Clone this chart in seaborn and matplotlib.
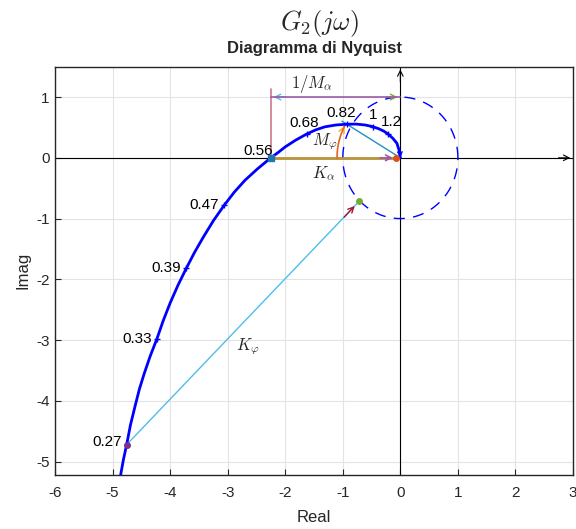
import numpy as np
import pandas as pd
import matplotlib
matplotlib.use("Agg")
import matplotlib.pyplot as plt
import seaborn as sns

# Nyquist curve (real, imag)
curve_re = [-4.86, -4.81, -4.755, -4.69, -4.61, -4.535, -4.45, -4.345, -4.23, -4.12, -4.0,
            -3.865, -3.72, -3.575, -3.42, -3.245, -3.06, -2.885, -2.70, -2.48,
            -2.25, -2.12, -2.0, -1.82, -1.63, -1.47, -1.31, -1.12, -0.93, -0.77, -0.61,
            -0.49, -0.38, -0.29, -0.21, -0.13, -0.06, -0.02, 0.0]
curve_im = [-5.22, -4.96, -4.72, -4.40, -4.09, -3.81, -3.55, -3.26, -2.98, -2.68, -2.39,
            -2.10, -1.82, -1.555, -1.30, -1.03, -0.78, -0.565, -0.37, -0.18,
            0.0, 0.09, 0.18, 0.29, 0.39, 0.46, 0.51, 0.54, 0.553, 0.555, 0.54,
            0.515, 0.48, 0.44, 0.39, 0.32, 0.24, 0.12, 0.0]

# frequency markers
freq_labels = ['0.27', '0.33', '0.39', '0.47', '0.56', '0.68', '0.82', '1', '1.2']
freq_re = [-4.755, -4.23, -3.72, -3.06, -2.25, -1.63, -0.93, -0.47, -0.21]
freq_im = [-4.72, -2.98, -1.82, -0.78, 0.0, 0.39, 0.553, 0.50, 0.39]

# margins
phase_cross = (-2.25, 0.0)
gain_cross = (-0.93, 0.553)
kphi_start = (-4.755, -4.72)
kphi_end = (-0.71, -0.71)

xticks = [-6, -5, -4, -3, -2, -1, 0, 1, 2, 3]
yticks = [-5, -4, -3, -2, -1, 0, 1]

sns.set_style("whitegrid")
plt.rcParams['font.family'] = ['Liberation Sans', 'DejaVu Sans']
plt.rcParams['mathtext.fontset'] = 'cm'
plt.rcParams['axes.unicode_minus'] = False

fig = plt.figure(figsize=(5.76, 5.29), dpi=100)
ax = fig.add_axes([0.0955, 0.102, 0.8993, 0.772])
ax.set_xlim(-6, 3)
ax.set_ylim(-5.22, 1.5)
ax.set_xticks(xticks)
ax.set_yticks(yticks)
ax.grid(True, color='#e3e3e3', lw=0.8)
for s in ax.spines.values():
    s.set_color('#262626')
    s.set_linewidth(1.0)
ax.tick_params(direction='in', length=4, colors='#262626', labelsize=11,
               left=True, bottom=True)
ax.tick_params(axis='x', pad=8)
ax.tick_params(axis='y', pad=4)
ax.set_xlabel('Real', fontsize=12, color='#262626', labelpad=7)
ax.set_ylabel('Imag', fontsize=12, color='#262626', labelpad=4)

# real / imag axes with arrows
ax.plot([-6, 3], [0, 0], color='black', lw=0.8, zorder=2)
ax.plot([0, 0], [-5.22, 1.5], color='black', lw=0.8, zorder=2)
ax.annotate('', xy=(3, 0), xytext=(2.7, 0),
            arrowprops=dict(arrowstyle='->', color='black', lw=0.8), annotation_clip=False)
ax.annotate('', xy=(0, 1.5), xytext=(0, 1.2),
            arrowprops=dict(arrowstyle='->', color='black', lw=0.8), annotation_clip=False)

# unit circle
th = np.linspace(0, 2 * np.pi, 400)
ax.plot(np.cos(th), np.sin(th), color='#0000ff', lw=1.0, ls=(0, (8, 6)), zorder=3)

# nyquist curve
df = pd.DataFrame({'re': curve_re, 'im': curve_im})
sns.lineplot(data=df, x='re', y='im', sort=False, color='#0000ff', lw=2.0, ax=ax, zorder=5)
ax.annotate('', xy=(0, 0), xytext=(-0.003, 0.04),
            arrowprops=dict(arrowstyle='->', color='#0000ff', lw=1.0, mutation_scale=8))
ax.plot(freq_re, freq_im, ls='none', marker='+', ms=5, mew=1, color='#0000ff', zorder=6)

offsets = [(-5, 3, 'right'), (-5, 0, 'right'), (-5, 0, 'right'), (-5, 0, 'right'),
           (2, 7, 'right'), (-2, 11, 'center'), (-6, 11, 'center'), (0, 12, 'center'),
           (3, 12, 'center')]
for lab, xr, yi, (dx, dy, ha) in zip(freq_labels, freq_re, freq_im, offsets):
    ax.annotate(lab, (xr, yi), xytext=(dx, dy), textcoords='offset pixels',
                ha=ha, va='center', fontsize=11, color='black', zorder=7)

# 1/M_alpha
ax.plot([phase_cross[0], phase_cross[0]], [0, 1.13], color='#c87a88', lw=1.2, zorder=4)
ax.plot([phase_cross[0], 0], [1, 1], color='#9b5aa8', lw=1.2, zorder=4)
ax.annotate('', xy=(phase_cross[0], 1), xytext=(phase_cross[0] + 0.3, 1),
            arrowprops=dict(arrowstyle='->', color='#4dbeee', lw=1.0))
ax.annotate('', xy=(0, 1), xytext=(-0.3, 1),
            arrowprops=dict(arrowstyle='->', color='#77ac30', lw=1.0))
ax.text(-1.53, 1.21, r'$1/M_\alpha$', fontsize=12, ha='center', va='center')

# K_alpha
ax.plot([phase_cross[0], -0.1], [0, 0], color='#b8933a', lw=2.0, zorder=4)
ax.annotate('', xy=(-0.08, 0), xytext=(-0.4, 0),
            arrowprops=dict(arrowstyle='->', color='#9b5aa8', lw=1.2), zorder=6)
ax.plot([-0.08], [0], 'o', ms=4, color='#d95319', zorder=6)
ax.plot([phase_cross[0]], [0], 's', ms=4, color='#1f77b4', zorder=7)
ax.text(-1.34, -0.26, r'$K_\alpha$', fontsize=12, ha='center', va='center')

# M_phi
ang = np.arctan2(gain_cross[1], gain_cross[0])
ax.plot([0, 1.18 * np.cos(ang)], [0, 1.18 * np.sin(ang)], color='#1f8fc4', lw=1.0, zorder=4)
arc = np.linspace(np.pi, ang + 0.03, 50)
ax.plot(1.1 * np.cos(arc), 1.1 * np.sin(arc), color='#e8641c', lw=1.2, zorder=4)
ax.annotate('', xy=(1.1 * np.cos(ang), 1.1 * np.sin(ang)),
            xytext=(1.1 * np.cos(ang + 0.1), 1.1 * np.sin(ang + 0.1)),
            arrowprops=dict(arrowstyle='->', color='#edb120', lw=1.0))
ax.text(-1.31, 0.27, r'$M_\varphi$', fontsize=12, ha='center', va='center')

# K_phi
ax.annotate('', xy=kphi_end, xytext=kphi_start,
            arrowprops=dict(arrowstyle='-', color='#4dbeee', lw=1.0))
ax.annotate('', xy=(kphi_end[0] - 0.05, kphi_end[1] - 0.05),
            xytext=(kphi_end[0] - 0.3, kphi_end[1] - 0.3),
            arrowprops=dict(arrowstyle='->', color='#a2142f', lw=1.0))
ax.plot([kphi_end[0]], [kphi_end[1]], 'o', ms=4, color='#77ac30', zorder=6)
ax.plot([kphi_start[0]], [kphi_start[1]], 'o', ms=4, color='#7e2f8e', zorder=6)
ax.text(-2.65, -3.11, r'$K_\varphi$', fontsize=12, ha='center', va='center')

ax.set_title('Diagramma di Nyquist', fontsize=12, fontweight='bold', pad=10)
fig.text(0.555, 0.955, r'$G_2(j\omega)$', fontsize=19, ha='center', va='center')

fig.savefig('out.png', dpi=100)
